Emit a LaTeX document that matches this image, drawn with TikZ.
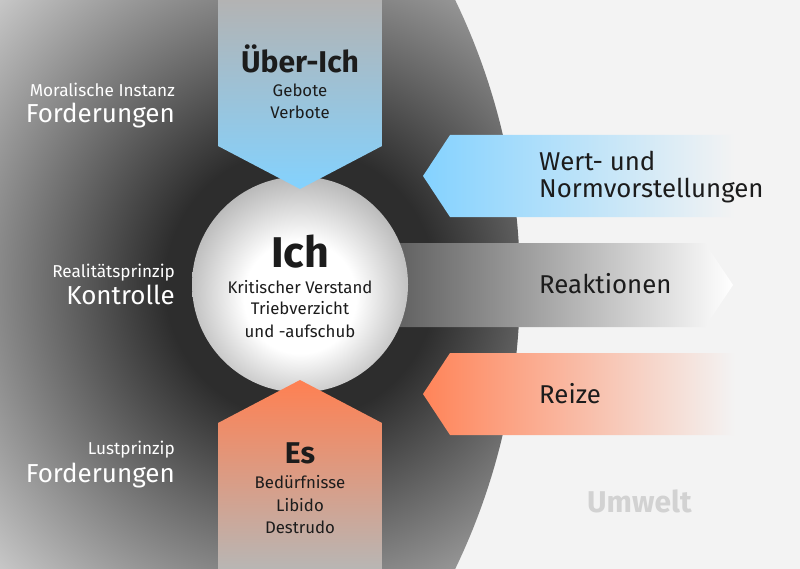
\documentclass[tikz,border=0pt]{standalone}
\usepackage{fontspec}
\setmainfont{Fira Sans}
\definecolor{bgcol}{HTML}{F3F3F3}
\definecolor{bgdark}{HTML}{2D2D2D}
\definecolor{bglight}{HTML}{CACACA}
\definecolor{ichedge}{HTML}{B8B8B8}
\definecolor{uberT}{HTML}{B3B3B3}
\definecolor{uberM}{HTML}{92CAE8}
\definecolor{uberB}{HTML}{84D2FE}
\definecolor{esT}{HTML}{FF8052}
\definecolor{esM}{HTML}{EE8E6E}
\definecolor{esB}{HTML}{B8B6B4}
\definecolor{wertL}{HTML}{84D2FF}
\definecolor{reizeL}{HTML}{FF8459}
\definecolor{reakL}{HTML}{333333}
\definecolor{inktext}{HTML}{1C1C1C}
\definecolor{umweltcol}{HTML}{D2D2D2}
\pgfdeclareradialshading{bgshade}{\pgfpoint{0bp}{0bp}}{color(0bp)=(bgdark); color(7.5bp)=(bgdark); color(23.3bp)=(bglight); color(25bp)=(bglight); color(50bp)=(bglight)}
\pgfdeclareradialshading{ichshade}{\pgfpoint{0bp}{-4bp}}{color(0bp)=(white); color(13bp)=(white); color(27bp)=(ichedge); color(50bp)=(ichedge)}
\tikzset{
  inner/.style={inner sep=0pt, text=inktext, anchor=base, font=\fontsize{16.8bp}{20bp}\selectfont},
  head/.style={inner sep=0pt, text=inktext, anchor=base, font=\fontsize{30bp}{34bp}\selectfont\bfseries},
  lsmall/.style={inner sep=0pt, text=white, anchor=base east, font=\fontsize{17.2bp}{20bp}\selectfont},
  lbig/.style={inner sep=0pt, text=white, anchor=base east, font=\fontsize{26bp}{30bp}\selectfont},
  rlabel/.style={inner sep=0pt, text=inktext, anchor=base west, font=\fontsize{25.8bp}{30bp}\selectfont},
}
\begin{document}
\begin{tikzpicture}[x=1bp,y=-1bp]
\useasboundingbox (0,0) rectangle (800,569);
\fill[bgcol] (0,0) rectangle (800,569);
% dark personality area
\begin{scope}
  \clip (-135,284.5) circle[radius=655bp];
  \clip (0,0) rectangle (800,569);
  \shade[shading=bgshade] (300,284) circle[radius=450bp];
\end{scope}
% arrows to/from environment
\shade[left color=reakL, right color=white] (300,243) -- (705,243) -- (733,285) -- (705,327) -- (300,327) -- cycle;
\shade[left color=wertL, right color=bgcol] (423,176) -- (450,135) -- (735,135) -- (735,217) -- (450,217) -- cycle;
\shade[left color=reizeL, right color=bgcol] (423,394) -- (450,353) -- (735,353) -- (735,435) -- (450,435) -- cycle;
% Ich circle
\node[circle, minimum size=216bp, inner sep=0pt, shading=ichshade] (ichcircle) at (300,284.5) {};
% Ueber-Ich and Es
\shade[top color=uberT, middle color=uberM, bottom color=uberB] (218,0) -- (382,0) -- (382,146) -- (300,189) -- (218,146) -- cycle;
\shade[top color=esT, middle color=esM, bottom color=esB] (300,380) -- (382,423) -- (382,569) -- (218,569) -- (218,423) -- cycle;
% texts
\node[head] (uber) at (300,73) {Über-Ich};
\node[inner] (gebote) at (300,97) {Gebote};
\node[inner] (verbote) at (300,119) {Verbote};
\node[head, font=\fontsize{43bp}{48bp}\selectfont\bfseries] (ich) at (300,267) {Ich};
\node[inner] (krit) at (300,293) {Kritischer Verstand};
\node[inner] (trieb) at (300,314) {Triebverzicht};
\node[inner] (aufschub) at (300,337) {und -aufschub};
\node[head] (es) at (300,463) {Es};
\node[inner] (bed) at (300,488) {Bedürfnisse};
\node[inner] (libido) at (300,511) {Libido};
\node[inner] (destrudo) at (300,533) {Destrudo};
\node[lsmall] (moral) at (175,97) {Moralische Instanz};
\node[lbig] (ford1) at (175,123) {Forderungen};
\node[lsmall] (real) at (175,277) {Realitätsprinzip};
\node[lbig] (kontr) at (175,304) {Kontrolle};
\node[lsmall] (lust) at (175,454) {Lustprinzip};
\node[lbig] (ford2) at (175,482) {Forderungen};
\node[rlabel] (wert) at (539,171) {Wert- und};
\node[rlabel] (norm) at (539,198) {Normvorstellungen};
\node[rlabel] (reak) at (539,293) {Reaktionen};
\node[rlabel] (reize) at (539,403) {Reize};
\node[inner sep=0pt, anchor=base west, text=umweltcol, font=\fontsize{30bp}{34bp}\selectfont\bfseries] (umwelt) at (587,512) {Umwelt};
\end{tikzpicture}
\end{document}
